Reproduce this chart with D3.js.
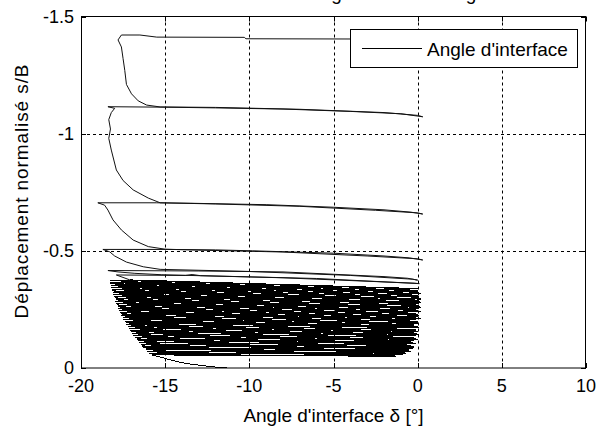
<!DOCTYPE html>
<html><head><meta charset="utf-8">
<script src="https://cdn.jsdelivr.net/npm/d3@7"></script>
<style>
html,body{margin:0;padding:0;background:#fff;}
svg{display:block;font-family:"Liberation Sans",Arial,Helvetica,sans-serif;}
</style></head>
<body><svg id="c" width="615" height="432"></svg>
<script>
// ---------- data ----------
const xTicks = [-20, -15, -10, -5, 0, 5, 10];
const xTickLabels = ["-20", "-15", "-10", "-5", "0", "5", "10"];
const yTicks = [-1.5, -1, -0.5, 0];
const yTickLabels = ["-1.5", "-1", "-0.5", "0"];
const seriesName = "Angle d'interface";
const xTitle = "Angle d'interface \u03b4 [\u00b0]";
const yTitle = "D\u00e9placement normalis\u00e9 s/B";
const titleText = "Angle d'interface - glissement";

// initial loading branch (angle, s/B)
const initDelta = [-11.3, -12.0, -12.8, -13.5, -14.1, -14.6, -15.2, -15.8];
const initSB    = [0.000, -0.004, -0.010, -0.017, -0.024, -0.033, -0.045, -0.056];

// small cycles (bottom to top): peak s/B, peak angle, unload end angle, s/B rebound over unload
const denseSB = [-0.056,-0.064,-0.071,-0.079,-0.086,-0.094,-0.101,-0.109,-0.117,-0.124,-0.132,-0.139,-0.147,-0.155,-0.162,-0.170,-0.177,-0.185,-0.193,-0.200,-0.208,-0.215,-0.223,-0.231,-0.238,-0.246,-0.253,-0.261,-0.269,-0.276,-0.284,-0.291,-0.299,-0.307,-0.314,-0.322,-0.329,-0.337,-0.345,-0.352,-0.360,-0.367,-0.375];
const denseLeft = [-15.8,-15.95,-16.05,-16.15,-16.3,-16.4,-16.45,-16.55,-16.6,-16.7,-16.8,-16.9,-16.95,-17.0,-17.1,-17.15,-17.2,-17.3,-17.35,-17.4,-17.5,-17.5,-17.6,-17.65,-17.7,-17.75,-17.8,-17.8,-17.85,-17.9,-17.95,-17.95,-18.0,-18.05,-18.1,-18.1,-18.15,-18.15,-18.2,-18.2,-18.25,-18.3,-18.3];
const denseRight = [-1.3,-0.9,-0.7,-0.4,-0.5,-0.3,-0.2,-0.4,-0.1,-0.3,-0.2,0.0,-0.2,-0.1,0.1,-0.2,0.0,-0.1,0.1,0.0,-0.2,0.1,0.0,-0.1,0.2,0.0,0.1,-0.1,0.2,0.0,0.1,0.2,0.0,0.1,0.2,0.0,0.2,0.1,0.0,0.2,0.1,0.0,0.1];
const denseRebound = [0.006,0.007,0.008,0.009,0.010,0.011,0.012,0.013,0.014,0.015,0.016,0.017,0.018,0.018,0.019,0.020,0.021,0.022,0.022,0.023,0.024,0.025,0.025,0.026,0.027,0.028,0.028,0.029,0.030,0.030,0.031,0.032,0.032,0.033,0.034,0.034,0.035,0.035,0.036,0.036,0.037,0.037,0.038];

// large cycles (chronological path, angle / s/B)
const bigDelta = [-17.9,-13.8,-13.4,-12.9,-6.0,0.1,
  -0.2,-8.0,-15.2,-16.8,-17.8,-18.4,
  -13.0,-8.0,-5.0,-2.0,-0.6,0.0,
  -0.3,-4.0,-10.0,-15.3,
  -16.3,-17.3,-18.0,-18.3,-18.7,
  -15.0,-12.0,-9.8,-5.0,-2.0,-0.5,0.3,
  0.0,-3.0,-8.0,-13.0,-15.0,
  -16.0,-16.9,-17.6,-18.1,-18.4,-18.6,-19.0,
  -15.5,-13.5,-9.0,-5.0,-2.0,-0.4,0.3,
  0.0,-2.5,-7.0,-12.0,-15.3,
  -16.0,-16.9,-17.5,-17.9,-18.2,-18.35,-18.25,-18.35,-18.2,-18.0,-18.4,
  -15.0,-12.0,-8.0,-4.0,-1.0,0.3,
  0.0,-2.0,-7.0,-12.0,-15.3,
  -16.1,-16.6,-17.0,-17.3,-17.4,-17.5,-17.6,-17.8,-17.6,
  -16.5,-15.5,-10.3,-10.2,-4.0,0.2];
const bigSB = [-0.397,-0.395,-0.399,-0.394,-0.382,-0.360,
  -0.362,-0.385,-0.398,-0.404,-0.410,-0.416,
  -0.414,-0.410,-0.400,-0.390,-0.383,-0.375,
  -0.379,-0.395,-0.412,-0.421,
  -0.432,-0.452,-0.478,-0.496,-0.506,
  -0.506,-0.504,-0.500,-0.490,-0.478,-0.470,-0.461,
  -0.466,-0.478,-0.495,-0.503,-0.507,
  -0.518,-0.546,-0.589,-0.632,-0.674,-0.695,-0.705,
  -0.705,-0.703,-0.697,-0.686,-0.675,-0.665,-0.657,
  -0.662,-0.673,-0.690,-0.700,-0.705,
  -0.725,-0.760,-0.800,-0.845,-0.930,-0.980,-1.020,-1.060,-1.090,-1.108,-1.115,
  -1.113,-1.110,-1.105,-1.095,-1.085,-1.072,
  -1.078,-1.090,-1.104,-1.112,-1.114,
  -1.122,-1.140,-1.170,-1.210,-1.270,-1.320,-1.370,-1.400,-1.421,
  -1.421,-1.412,-1.411,-1.405,-1.404,-1.400];

// ---------- chart ----------
const pL = 81, pR = 586, pT = 16.5, pB = 368;
const x = d3.scaleLinear().domain([-20, 10]).range([pL, pR]);
const y = d3.scaleLinear().domain([-1.5, 0]).range([pT, pB]);
const svg = d3.select("#c");

// title (mostly cut off above the window, as in the source figure)
svg.append("text").attr("x", 308).attr("y", -0.5).attr("font-size", 19)
  .attr("fill", "#000").text(titleText);

// grid
const g = svg.append("g");
g.selectAll(".gx").data(xTicks.slice(1, -1)).enter().append("line")
  .attr("x1", d => Math.round(x(d)) + 0.5).attr("x2", d => Math.round(x(d)) + 0.5)
  .attr("y1", pT).attr("y2", pB)
  .attr("stroke", "#000").attr("stroke-width", 1).attr("stroke-dasharray", "3,3");
g.selectAll(".gy").data(yTicks.slice(1, -1)).enter().append("line")
  .attr("y1", d => Math.round(y(d)) + 0.5).attr("y2", d => Math.round(y(d)) + 0.5)
  .attr("x1", pL).attr("x2", pR)
  .attr("stroke", "#000").attr("stroke-width", 1).attr("stroke-dasharray", "3,3");

// build path points
const ptsA = [];
initDelta.forEach((d, i) => ptsA.push([d, initSB[i]]));
denseSB.forEach((s, i) => {
  const l = denseLeft[i], r = denseRight[i], rb = denseRebound[i];
  ptsA.push([l, s]);
  ptsA.push([r, s + rb]);
  ptsA.push([r - 0.1, s + rb - 0.002]);
  ptsA.push([l + 1.2, s - 0.001]);
});
const ptsB = [ptsA[ptsA.length - 1]];
bigDelta.forEach((d, i) => ptsB.push([d, bigSB[i]]));

const line = d3.line().x(d => x(d[0])).y(d => y(d[1]));
svg.append("path").datum(ptsA).attr("d", line)
  .attr("fill", "none").attr("stroke", "#000").attr("stroke-width", 1)
  .attr("shape-rendering", "crispEdges");
svg.append("path").datum(ptsB).attr("d", line)
  .attr("fill", "none").attr("stroke", "#111").attr("stroke-width", 1)
  .attr("stroke-linejoin", "round");

// box
svg.append("rect").attr("x", pL + 0.5).attr("y", pT).attr("width", pR - pL - 1)
  .attr("height", pB - pT).attr("fill", "none").attr("stroke", "#000").attr("stroke-width", 1);

// ticks (inward, all sides)
const tk = 5;
xTicks.forEach(t => {
  const px = Math.round(x(t)) + 0.5;
  svg.append("line").attr("x1", px).attr("x2", px).attr("y1", pB).attr("y2", pB - tk).attr("stroke", "#000");
  svg.append("line").attr("x1", px).attr("x2", px).attr("y1", pT).attr("y2", pT + tk).attr("stroke", "#000");
});
yTicks.forEach(t => {
  const py = Math.round(y(t)) + 0.5;
  svg.append("line").attr("x1", pL).attr("x2", pL + tk).attr("y1", py).attr("y2", py).attr("stroke", "#000");
  svg.append("line").attr("x1", pR).attr("x2", pR - tk).attr("y1", py).attr("y2", py).attr("stroke", "#000");
});

// tick labels
svg.selectAll(".xl").data(xTicks).enter().append("text")
  .attr("x", d => x(d)).attr("y", 392).attr("text-anchor", "middle")
  .attr("font-size", 18).text((d, i) => xTickLabels[i]);
svg.selectAll(".yl").data(yTicks).enter().append("text")
  .attr("x", 74).attr("y", d => y(d) + 6).attr("text-anchor", "end")
  .attr("font-size", 18).text((d, i) => yTickLabels[i]);

// axis titles
svg.append("text").attr("x", (pL + pR) / 2).attr("y", 422).attr("text-anchor", "middle")
  .attr("font-size", 19).text(xTitle);
svg.append("text").attr("transform", "translate(28,191) rotate(-90)")
  .attr("text-anchor", "middle").attr("font-size", 19).attr("letter-spacing", 0.9).text(yTitle);

// legend
svg.append("rect").attr("x", 350.5).attr("y", 29.5).attr("width", 227).attr("height", 38)
  .attr("fill", "#fff").attr("stroke", "#000").attr("stroke-width", 1);
svg.append("line").attr("x1", 362).attr("x2", 422).attr("y1", 48.5).attr("y2", 48.5)
  .attr("stroke", "#000").attr("stroke-width", 1);
svg.append("text").attr("x", 427).attr("y", 55.5).attr("font-size", 19).text(seriesName);
</script></body></html>
